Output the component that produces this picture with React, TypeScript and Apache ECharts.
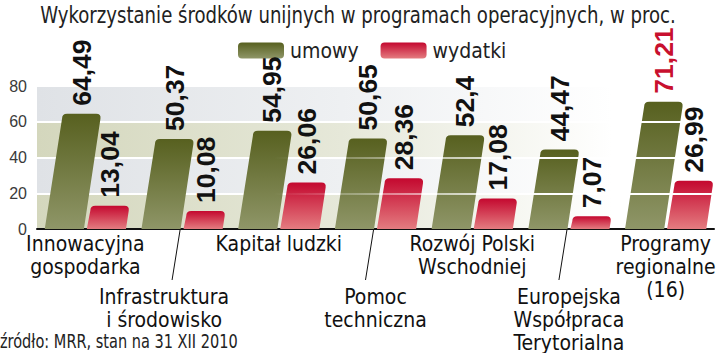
import React, { useEffect, useRef } from "react";
import * as echarts from "echarts";

const categories = [
  "Innowacyjna\ngospodarka",
  "Infrastruktura\ni środowisko",
  "Kapitał ludzki",
  "Pomoc\ntechniczna",
  "Rozwój Polski\nWschodniej",
  "Europejska\nWspółpraca\nTerytorialna",
  "Programy\nregionalne\n(16)",
];
const umowy = [64.49, 50.37, 54.95, 50.65, 52.4, 44.47, 71.21];
const wydatki = [13.04, 10.08, 26.06, 28.36, 17.08, 7.07, 26.99];
const highlightedCategory = "Programy\nregionalne\n(16)";
const yTicks = [0, 20, 40, 60, 80];
const gridLineValues = [20, 40, 60];
const title = "Wykorzystanie środków unijnych w programach operacyjnych, w proc.";
const source = "źródło: MRR, stan na 31 XII 2010";

const NARROW = '"DejaVu Sans Condensed", "Liberation Sans", sans-serif';
const BOLD = '"Liberation Sans", Arial, sans-serif';

const greenGrad = () =>
  new echarts.graphic.LinearGradient(0, 0, 0, 1, [
    { offset: 0, color: "#57601f" },
    { offset: 1, color: "#8f9668" },
  ]);
const redGrad = () =>
  new echarts.graphic.LinearGradient(0, 0, 0, 1, [
    { offset: 0, color: "#c4082f" },
    { offset: 1, color: "#e47c80" },
  ]);

const SKEW = 0.15;

function barGeom(api: any, which: number, i: number, v: number) {
  const base = api.coord([i, 0]);
  const top = api.coord([i, v]);
  const band = api.size([1, 0])[0];
  const w = band * 0.405;
  const gap = band * 0.03;
  const x0 = which === 0 ? base[0] - gap / 2 - w : base[0] + gap / 2;
  const yb = base[1];
  const yt = top[1];
  const h = yb - yt;
  const sk = h * SKEW;
  return { x0, w, yb, yt, h, tlx: x0 + sk, trx: x0 + w + sk };
}

function makeRender(which: number) {
  return (params: any, api: any) => {
    const i = api.value(0);
    const v = api.value(1);
    const g = barGeom(api, which, i, v);
    const r = Math.min(5, g.h / 2);
    const d =
      `M${g.x0},${g.yb} L${g.x0 + g.w},${g.yb} L${g.trx - r * SKEW},${g.yt + r} ` +
      `Q${g.trx},${g.yt} ${g.trx - r},${g.yt} L${g.tlx + r},${g.yt} ` +
      `Q${g.tlx},${g.yt} ${g.tlx},${g.yt + r} Z`;
    return {
      type: "path",
      shape: { pathData: d },
      style: { fill: which === 0 ? greenGrad() : redGrad() },
    };
  };
}

const labelData = [
  ...umowy.map((v, i) => [i, v, 0]),
  ...wydatki.map((v, i) => [i, v, 1]),
];

const leaderIdx = categories.map((_, i) => i).filter((i) => i % 2 === 1);

export default function App() {
  const ref = useRef<HTMLDivElement>(null);
  useEffect(() => {
    if (!ref.current) return;
    const chart = echarts.init(ref.current, undefined, { renderer: "svg" });
    const bandGreen = new echarts.graphic.LinearGradient(0, 0, 1, 0, [
      { offset: 0, color: "#d4d7bd" },
      { offset: 0.45, color: "#e6e8d9" },
      { offset: 0.85, color: "#ffffff" },
      { offset: 1, color: "#ffffff" },
    ]);
    const bandGray = new echarts.graphic.LinearGradient(0, 0, 1, 0, [
      { offset: 0, color: "#dfe2e6" },
      { offset: 0.45, color: "#eef0f2" },
      { offset: 0.85, color: "#ffffff" },
      { offset: 1, color: "#ffffff" },
    ]);
    chart.setOption({
      animation: false,
      graphic: [
        {
          type: "text",
          x: 358,
          y: 4,
          scaleX: 0.875,
          style: {
            text: title,
            align: "center",
            verticalAlign: "top",
            fontFamily: NARROW,
            fontSize: 23,
            fill: "#222",
          },
        },
        {
          type: "text",
          x: 0,
          y: 351,
          scaleX: 0.85,
          style: {
            text: source,
            align: "left",
            verticalAlign: "bottom",
            fontFamily: NARROW,
            fontSize: 19,
            fill: "#222",
          },
        },
      ],
      legend: {
        left: 233,
        top: 35,
        itemWidth: 46,
        itemHeight: 16,
        itemGap: 22,
        icon: "roundRect",
        data: ["umowy", "wydatki"],
        textStyle: { fontFamily: NARROW, fontSize: 21, color: "#222", padding: [0, 0, 0, 1] },
      },
      grid: { left: 37, right: 6, top: 86, bottom: 123 },
      xAxis: {
        type: "category",
        data: categories,
        axisLine: { lineStyle: { color: "#111", width: 2 } },
        axisTick: { show: false },
        axisLabel: {
          interval: 0,
          margin: 3,
          color: "#111",
          formatter: (val: string, idx: number) => {
            const style = idx === 1 ? "ts" : "t";
            const lines = val.split("\n").map((l) => `{${style}|${l}}`).join("\n");
            return idx % 2 === 1 ? `{sp| }\n${lines}` : lines;
          },
          rich: {
            t: { fontFamily: NARROW, fontSize: 21, lineHeight: 23, color: "#111" },
            ts: {
              fontFamily: NARROW,
              fontSize: 21,
              lineHeight: 23,
              color: "#111",
              padding: [0, 36, 0, 0],
            },
            sp: { fontSize: 10, lineHeight: 53 },
          },
        },
      },
      yAxis: {
        type: "value",
        min: yTicks[0],
        max: yTicks[yTicks.length - 1],
        interval: 20,
        axisLine: { show: false },
        axisTick: { show: false },
        axisLabel: { fontFamily: BOLD, fontSize: 16, color: "#3a3a3a", margin: 10 },
        splitLine: { lineStyle: { color: "#ffffff", width: 2 } },
        splitArea: { show: true, areaStyle: { color: [bandGreen, bandGray] } },
      },
      series: [
        {
          name: "umowy",
          type: "custom",
          renderItem: makeRender(0),
          itemStyle: { color: greenGrad() },
          data: umowy.map((v, i) => [i, v]),
          z: 2,
        },
        {
          name: "wydatki",
          type: "custom",
          renderItem: makeRender(1),
          itemStyle: { color: redGrad() },
          data: wydatki.map((v, i) => [i, v]),
          z: 2,
        },
        {
          name: "labels",
          type: "custom",
          silent: true,
          renderItem: (params: any, api: any) => {
            const i = api.value(0);
            const v = api.value(1);
            const which = api.value(2);
            const g = barGeom(api, which, i, v);
            const isHi = which === 0 && categories[i] === highlightedCategory;
            return {
              type: "text",
              x: (g.tlx + g.trx) / 2,
              y: g.yt - 8,
              rotation: Math.PI / 2,
              style: {
                text: String(v).replace(".", ","),
                align: "left",
                verticalAlign: "middle",
                fontFamily: BOLD,
                fontWeight: "bold",
                fontSize: 26.5,
                fill: isHi ? "#c8102e" : "#111111",
              },
            };
          },
          data: labelData,
          z: 20,
        },
        {
          name: "leaders",
          type: "custom",
          silent: true,
          renderItem: (params: any, api: any) => {
            const p = api.coord([api.value(0), 0]);
            return {
              type: "line",
              shape: { x1: p[0] - 2, y1: p[1] + 1, x2: p[0] - 10, y2: p[1] + 51 },
              style: { stroke: "#111", lineWidth: 1 },
            };
          },
          data: leaderIdx.map((i) => [i, 0]),
          z: 3,
        },
        {
          name: "gridOverlay",
          type: "line",
          data: [],
          silent: true,
          z: 10,
          markLine: {
            silent: true,
            symbol: "none",
            label: { show: false },
            lineStyle: {
              type: "solid",
              width: 2,
              color: new echarts.graphic.LinearGradient(
                37, 0, 714, 0,
                [
                  { offset: 0, color: "rgba(255,255,255,0)" },
                  { offset: 0.35, color: "rgba(255,255,255,0)" },
                  { offset: 0.75, color: "rgba(255,255,255,1)" },
                  { offset: 1, color: "rgba(255,255,255,1)" },
                ],
                true
              ),
            },
            data: gridLineValues.map((v) => ({ yAxis: v })),
          },
        },
      ],
    });
    return () => chart.dispose();
  }, []);
  return (
    <div
      ref={ref}
      style={{ position: "fixed", left: 0, top: 0, width: 720, height: 353, background: "#fff" }}
    />
  );
}
